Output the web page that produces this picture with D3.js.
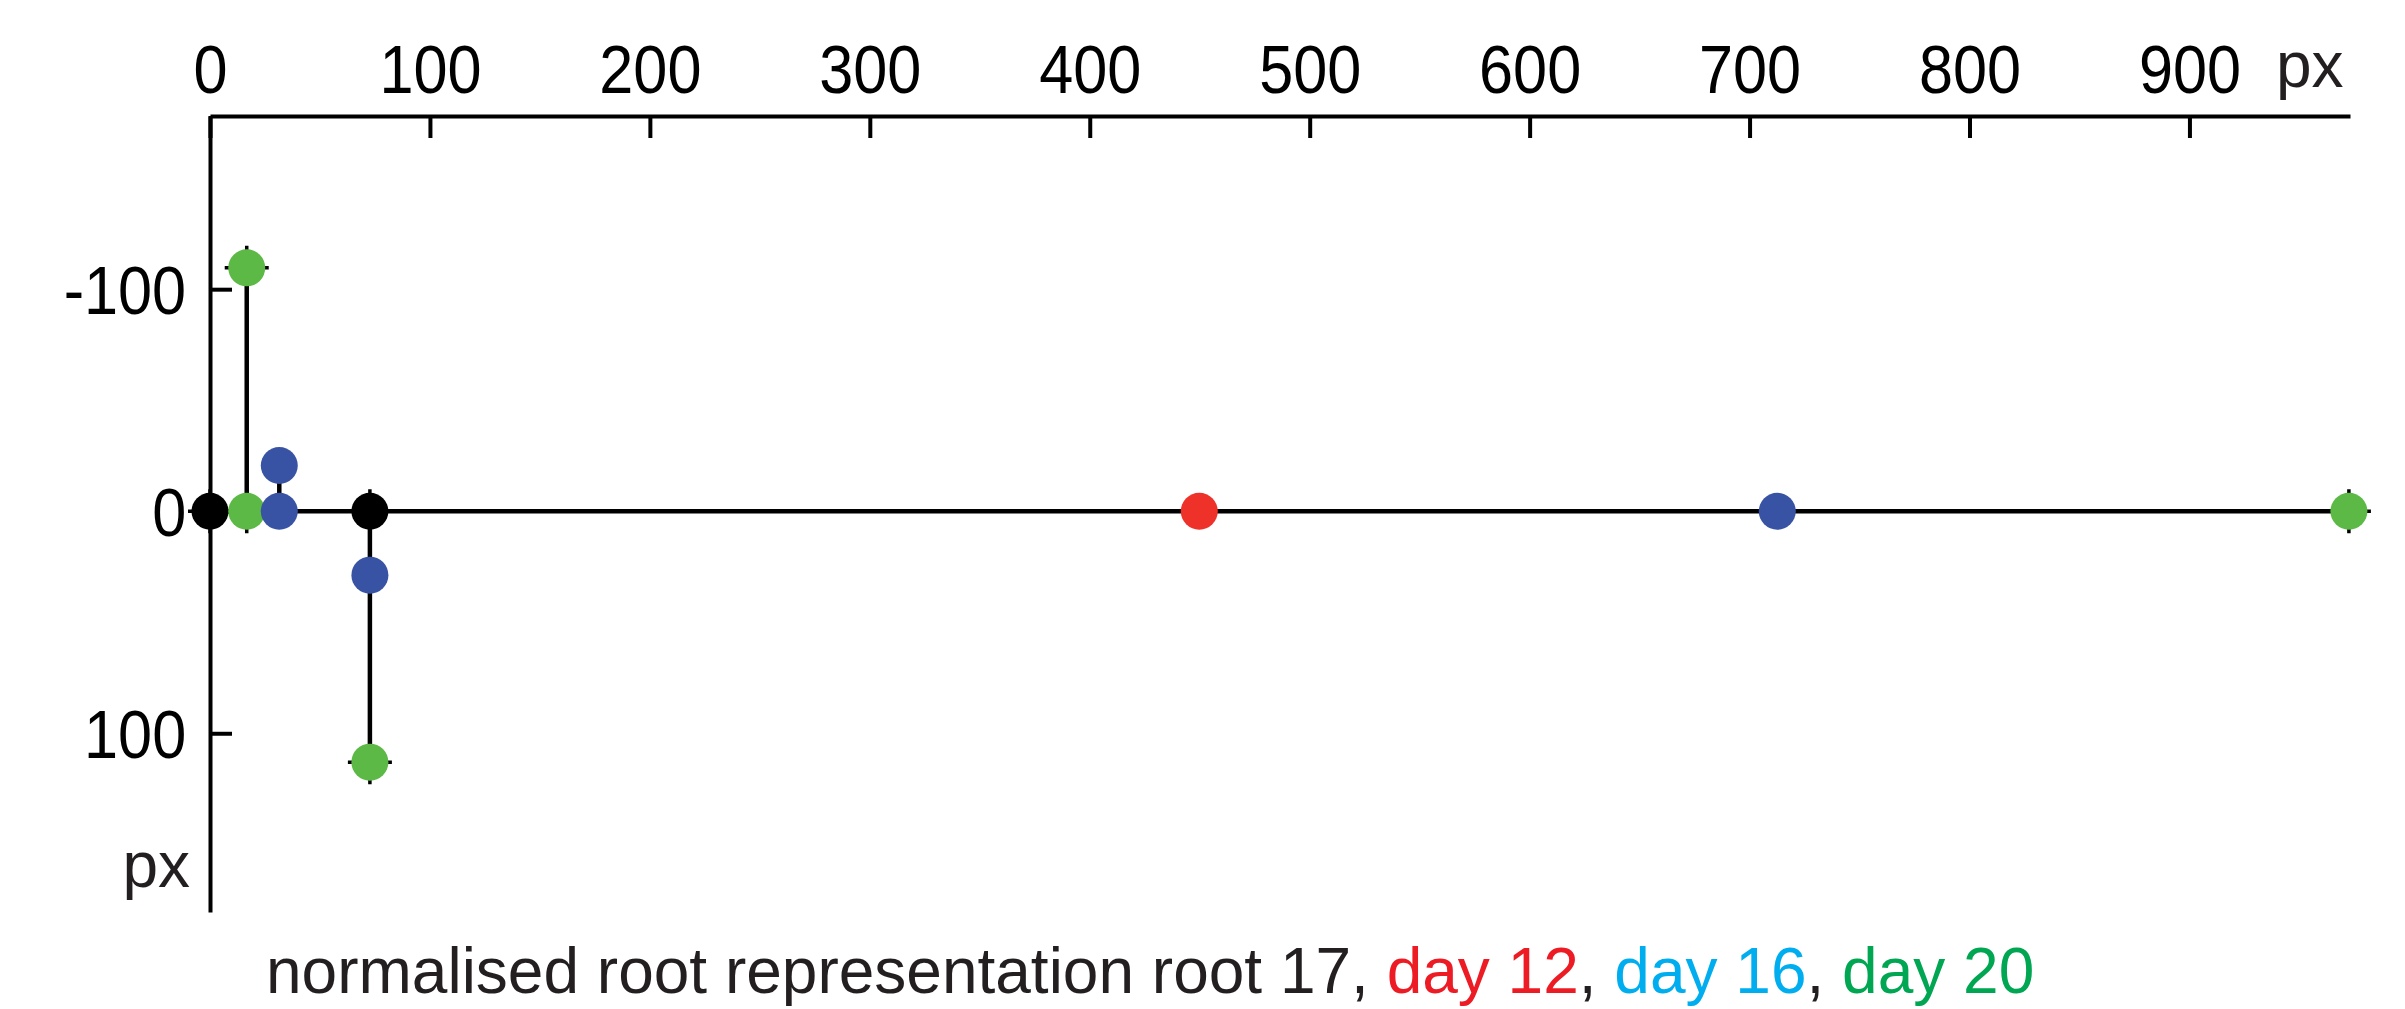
<!DOCTYPE html>
<html>
<head>
<meta charset="utf-8">
<script src="https://cdn.jsdelivr.net/npm/d3@7"></script>
<style>
  body { margin: 0; background: #fff; }
  .axis path, .axis line { stroke: #000; stroke-width: 4; }
  .axis text { font-family: "Liberation Sans", Arial, sans-serif; font-size: 68px; fill: #000; }
  .unit { font-family: "Liberation Sans", Arial, sans-serif; font-size: 64px; fill: #231f20; }
  .title { font-family: "Liberation Sans", Arial, sans-serif; font-size: 64px; fill: #231f20; }
</style>
</head>
<body>
<svg id="chart"></svg>
<script>
// root 17 drawn in normalised coordinates (px), y grows downwards
const xTicks = [0, 100, 200, 300, 400, 500, 600, 700, 800, 900]
const yTicks = [-100, 0, 100]

// root segments: main root then laterals
const roots = [
  [[0, 0], [972.5, 0]],
  [[16.7, 0], [16.7, -109.6]],
  [[31.5, 0], [31.5, -20.6]],
  [[72.7, 0], [72.7, 113]],
]

// measured points per series
const root17 = [[0, 0], [72.7, 0]]
const day12 = [[449.8, 0]]
const day16 = [[31.5, -20.6], [31.5, 0], [72.7, 28.8], [712.6, 0]]
const day20 = [[16.7, -109.6], [16.7, 0], [72.7, 113], [972.5, 0]]

const titleParts = [
  { text: 'normalised root representation root 17, ', color: '#231f20' },
  { text: 'day 12', color: '#ed1c24' },
  { text: ', ', color: '#231f20' },
  { text: 'day 16', color: '#00aeef' },
  { text: ', ', color: '#231f20' },
  { text: 'day 20', color: '#00a651' },
]

;(function() {
  const chartWidth = 2405
  const chartHeight = 1009
  const dotRadius = 18.5
  const armLength = 22
  const squeeze = 0.9

  const svg = d3.select('#chart')
    .attr('width', chartWidth)
    .attr('height', chartHeight)

  const x = d3.scaleLinear()
    .domain([0, 973])
    .range([210, 2350])

  const y = d3.scaleLinear()
    .domain([-178, 180.5])
    .range([116, 912])

  // Axis
  svg.append('g')
    .attr('class', 'axis')
    .attr('transform', `translate(0, ${y.range()[0]})`)
    .call(d3.axisTop(x)
      .tickValues(xTicks)
      .tickSizeInner(-22)
      .tickSizeOuter(0)
      .tickPadding(23)
      .tickFormat(d => String(d)))
    .call(g => g.selectAll('.tick text')
      .attr('dy', '0em')
      .attr('transform', `scale(${squeeze},1)`))

  svg.append('g')
    .attr('class', 'axis')
    .attr('transform', `translate(${x.range()[0]}, 0)`)
    .call(d3.axisLeft(y)
      .tickValues(yTicks)
      .tickSizeInner(-22)
      .tickSizeOuter(0)
      .tickPadding(26.5)
      .tickFormat(d => String(d)))
    .call(g => g.selectAll('.tick text')
      .attr('dy', '0.36em')
      .attr('transform', `scale(${squeeze},1)`))

  svg.selectAll('.axis text').attr('font-size', null).attr('font-family', null)
  svg.selectAll('.axis path, .axis line').attr('stroke-width', 4.5)

  svg.append('text')
    .attr('class', 'unit')
    .attr('x', 2276)
    .attr('y', 87)
    .text('px')

  svg.append('text')
    .attr('class', 'unit')
    .attr('x', 190)
    .attr('y', 887)
    .attr('text-anchor', 'end')
    .text('px')

  // root lines
  const line = d3.line()
    .x(d => x(d[0]))
    .y(d => y(d[1]))

  svg.selectAll('path.root')
    .data(roots)
    .enter()
    .append('path')
      .attr('class', 'root')
      .attr('d', line)
      .attr('stroke', '#000')
      .attr('stroke-width', 4.5)
      .attr('fill', 'none')

  // small black crosses under the black and green markers
  const crossed = root17.concat(day20)
  svg.selectAll('path.cross')
    .data(crossed)
    .enter()
    .append('path')
      .attr('class', 'cross')
      .attr('d', d => {
        const cx = x(d[0])
        const cy = y(d[1])
        return `M${cx - armLength},${cy}H${cx + armLength}M${cx},${cy - armLength}V${cy + armLength}`
      })
      .attr('stroke', '#000')
      .attr('stroke-width', 3.5)

  // data points
  const series = [
    { points: root17, color: '#000000' },
    { points: day20, color: '#5cb946' },
    { points: day12, color: '#ee3129' },
    { points: day16, color: '#3953a4' },
  ]

  series.forEach(s => {
    svg.append('g')
      .selectAll('circle')
      .data(s.points)
      .enter()
      .append('circle')
        .attr('cx', d => x(d[0]))
        .attr('cy', d => y(d[1]))
        .attr('r', dotRadius)
        .attr('fill', s.color)
  })

  // caption
  svg.append('text')
    .attr('class', 'title')
    .attr('x', 266)
    .attr('y', 993)
    .selectAll('tspan')
    .data(titleParts)
    .enter()
    .append('tspan')
      .attr('fill', d => d.color)
      .style('white-space', 'pre')
      .text(d => d.text)
})()
</script>
</body>
</html>
